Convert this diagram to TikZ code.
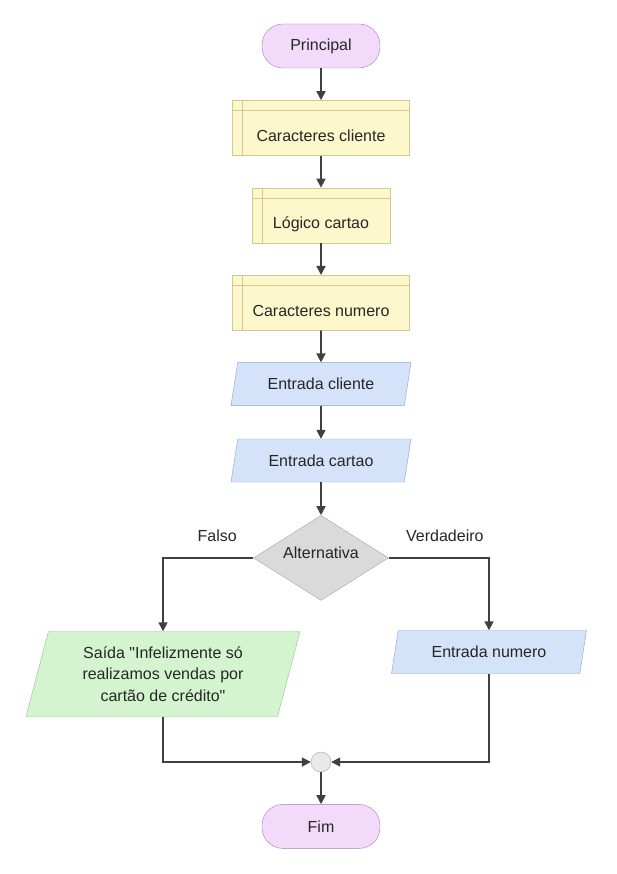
\documentclass[tikz,border=0pt]{standalone}
\usepackage{fontspec}
\setmainfont{Liberation Sans}
\usepackage{xcolor}
\usetikzlibrary{arrows.meta, positioning, shapes.geometric}

\definecolor{termfill}{HTML}{F3D9FA}
\definecolor{termborder}{HTML}{9E86A8}
\definecolor{subfill}{HTML}{FCF8CC}
\definecolor{subborder}{HTML}{D2C98C}
\definecolor{infill}{HTML}{D5E3FA}
\definecolor{inborder}{HTML}{8EA2C6}
\definecolor{outfill}{HTML}{D3F4CF}
\definecolor{outborder}{HTML}{93BF8E}
\definecolor{decfill}{HTML}{DADADA}
\definecolor{decborder}{HTML}{A6A6A6}
\definecolor{flowline}{HTML}{404040}

\begin{document}
\begin{tikzpicture}[x=1pt, y=-1pt,
			font=\fontsize{16}{19}\selectfont, text=black!85,
			terminal/.style={draw=termborder, fill=termfill, rounded corners=21pt, minimum width=118pt, minimum height=44pt},
			subproc/.style={draw=subborder, fill=subfill, minimum width=177pt, minimum height=55pt,
				text height=27pt, text depth=0pt,
				path picture={
					\draw[subborder] ([xshift=10pt]path picture bounding box.north west) -- ([xshift=10pt]path picture bounding box.south west);
					\draw[subborder] ([yshift=-10pt]path picture bounding box.north west) -- ([yshift=-10pt]path picture bounding box.north east);}},
			inputbox/.style={trapezium, trapezium left angle=70, trapezium right angle=110, trapezium stretches body,
				draw=inborder, fill=infill, minimum width=180pt, minimum height=43pt},
			outputbox/.style={inputbox, draw=outborder, fill=outfill, align=center, minimum width=274pt, minimum height=85pt,
				font=\fontsize{16}{21.5}\selectfont},
			decision/.style={diamond, draw=decborder, fill=decfill, minimum width=135pt, minimum height=85pt, inner sep=0pt},
			mergept/.style={circle, draw=decborder, fill=decfill!60, minimum size=20pt, inner sep=0pt},
			arrow/.style={-{Triangle[length=9pt, width=9pt]}, line width=1.6pt, draw=flowline}
			]
			\useasboundingbox (0,0) rectangle (616,874);
			
			% Main column
			\node[terminal] (principal) at (321,46) {Principal};
			\node[subproc, below=32pt of principal] (carcliente) {Caracteres cliente};
			\node[subproc, below=32pt of carcliente, minimum width=138pt] (logcartao) {Lógico cartao};
			\node[subproc, below=32pt of logcartao] (carnumero) {Caracteres numero};
			\node[inputbox, below=32pt of carnumero] (entcliente) {Entrada cliente};
			\node[inputbox, below=33pt of entcliente] (entcartao) {Entrada cartao};
			\node[decision, below=33pt of entcartao] (alt) {\raisebox{-1pt}[0pt][0pt]{Alternativa}};
			
			% Branches
			\node[outputbox] (saida) at (163,674) {Saída \textquotedbl Infelizmente só\\realizamos vendas por\\cartão de crédito\textquotedbl};
			\node[inputbox, minimum width=195pt] (entnumero) at (489,652) {Entrada numero};
			
			% Merge and end
			\node[mergept] (merge) at (321,762) {};
			\node[terminal, below=32pt of merge] (fim) {Fim};
			
			% Arrows
			\draw[arrow] (principal) -- (carcliente);
			\draw[arrow] (carcliente) -- (logcartao);
			\draw[arrow] (logcartao) -- (carnumero);
			\draw[arrow] (carnumero) -- (entcliente);
			\draw[arrow] (entcliente) -- (entcartao);
			\draw[arrow] (entcartao) -- (alt);
			\draw[arrow] (alt.west) -| node[pos=0.2, above=12pt] {Falso} (saida.north);
			\draw[arrow] (alt.east) -| node[pos=0.28, above=12pt] {Verdadeiro} (entnumero.north);
			\draw[arrow] (saida.south) |- (merge.west);
			\draw[arrow] (entnumero.south) |- (merge.east);
			\draw[arrow] (merge) -- (fim);
			
		\end{tikzpicture}
\end{document}
